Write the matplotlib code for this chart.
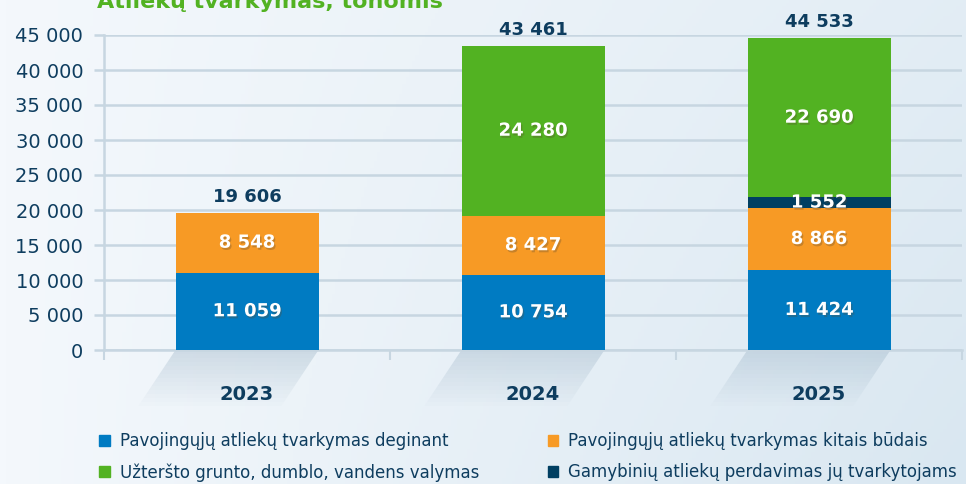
import numpy as np
import matplotlib.pyplot as plt
import matplotlib.patheffects as pe
from matplotlib.colors import LinearSegmentedColormap
from matplotlib.patches import Polygon, Patch

years = ['2023', '2024', '2025']
deginant = [11059, 10754, 11424]
kitais = [8548, 8427, 8866]
perdavimas = [0, 0, 1552]
valymas = [0, 24280, 22690]
totals = [19606, 43461, 44533]

labels = ['Pavojingųjų atliekų tvarkymas deginant',
          'Pavojingųjų atliekų tvarkymas kitais būdais',
          'Gamybinių atliekų perdavimas jų tvarkytojams',
          'Užteršto grunto, dumblo, vandens valymas']
colors = ['#007bc2', '#f79a25', '#003f62', '#52b222']
navy = '#0e3d5f'
grid_c = '#c7d6e1'

plt.rcParams['font.family'] = ['DejaVu Sans']

fig = plt.figure(figsize=(9.66, 4.84), dpi=100)

# background gradient
bg = fig.add_axes([0, 0, 1, 1], zorder=-10)
gx = np.linspace(0, 1, 300)
gy = np.linspace(0, 1, 150)
GX, GY = np.meshgrid(gx, gy)
grad = 0.65 * GX + 0.35 * (1 - GY) * GX
bg.imshow(grad, cmap=LinearSegmentedColormap.from_list('bg', ['#f4f8fc', '#d9e7f1']),
          aspect='auto', extent=[0, 1, 0, 1], origin='lower')
bg.set_xlim(0, 1)
bg.set_ylim(0, 1)
bg.axis('off')

ax = fig.add_axes([104 / 966, 1 - 350 / 484, 858 / 966, 315 / 484])
ax.patch.set_alpha(0)

x = np.arange(len(years))
w = 0.5
series = [deginant, kitais, perdavimas, valymas]
bottom = np.zeros(len(years))
for vals, col in zip(series, colors):
    vals = np.array(vals)
    ax.bar(x, vals, w, bottom=bottom, color=col, zorder=3)
    for xi, v, b in zip(x, vals, bottom):
        if v > 0:
            ax.text(xi, b + v / 2, f'{v:,}'.replace(',', ' '), ha='center', va='center',
                    color='white', fontsize=13, fontweight='bold', zorder=5,
                    path_effects=[pe.withSimplePatchShadow(offset=(1, -1.5), shadow_rgbFace='#5a4a30', alpha=0.3)])
    bottom += vals

for xi, t in zip(x, totals):
    ax.annotate(f'{t:,}'.replace(',', ' '), (xi, t), xytext=(0, 8), textcoords='offset points',
                ha='center', va='baseline', color=navy, fontsize=13, fontweight='bold')

# fading shadows under bars
steps = 14
depth = 8000
skew = 0.13
for xi in x:
    for k in range(steps):
        y0 = -depth * k / steps
        y1 = -depth * (k + 1) / steps
        s0 = skew * k / steps
        s1 = skew * (k + 1) / steps
        ax.add_patch(Polygon([(xi - w / 2 - s0, y0), (xi + w / 2 - s0, y0),
                              (xi + w / 2 - s1, y1), (xi - w / 2 - s1, y1)],
                             closed=True, facecolor='#9fb6c8', alpha=0.4 * (1 - k / steps),
                             edgecolor='none', clip_on=False, zorder=1))

ax.set_xlim(-0.5, 2.5)
ax.set_ylim(0, 45000)
ax.set_yticks(np.arange(0, 45001, 5000))
ax.set_yticklabels([f'{v:,}'.replace(',', ' ') for v in range(0, 45001, 5000)])
ax.grid(axis='y', color=grid_c, linewidth=1.8, zorder=0)
ax.tick_params(axis='y', colors=grid_c, labelcolor=navy, labelsize=14, length=7, width=1.8, pad=8)
ax.set_xticks(x)
ax.set_xticklabels(years, fontsize=14, fontweight='bold', color=navy)
ax.tick_params(axis='x', length=0, pad=25)
ax.set_xticks([-0.5, 0.5, 1.5, 2.5], minor=True)
ax.tick_params(axis='x', which='minor', length=7, width=1.5, color=grid_c)
for s in ['top', 'right']:
    ax.spines[s].set_visible(False)
for s in ['left', 'bottom']:
    ax.spines[s].set_color(grid_c)
    ax.spines[s].set_linewidth(1.8)

fig.text(97 / 966, 1 - 8 / 484, 'Atliekų tvarkymas, tonomis', color='#52b222',
         fontsize=16, fontweight='bold', va='baseline', ha='left')

order = [0, 3, 1, 2]
handles = [Patch(color=colors[i]) for i in order]
fig.legend(handles, [labels[i] for i in order], ncol=2, frameon=False,
           loc='center left', bbox_to_anchor=(99 / 966, 1 - 457 / 484),
           fontsize=12, handlelength=0.65, handleheight=0.65, handletextpad=0.6,
           columnspacing=4.1, labelspacing=0.75, labelcolor=navy,
           borderpad=0, borderaxespad=0)

fig.savefig('out.png', dpi=100)
